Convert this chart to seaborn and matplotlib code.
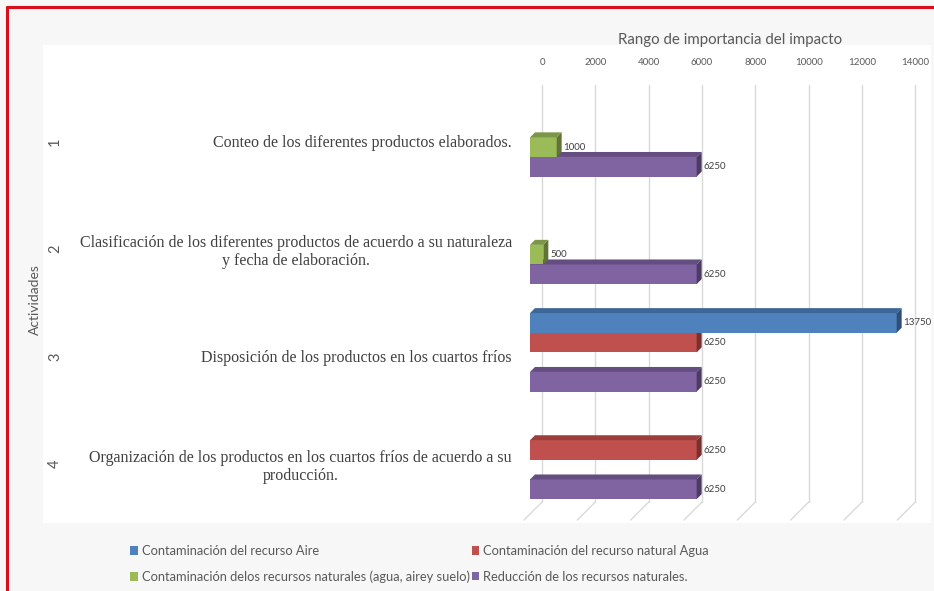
import matplotlib
matplotlib.use('Agg')
import matplotlib.pyplot as plt
import matplotlib.transforms as mtransforms
from matplotlib.patches import Polygon, Rectangle, Patch
from matplotlib.lines import Line2D
import seaborn as sns
import pandas as pd

# Data
activities = ['1', '2', '3', '4']
activity_labels = [
    'Conteo de los diferentes productos elaborados.',
    'Clasificación de los diferentes productos de acuerdo a su naturaleza\ny fecha de elaboración.',
    'Disposición de los productos en los cuartos fríos',
    'Organización de los productos en los cuartos fríos de acuerdo a su\nproducción.',
]
series = [
    'Contaminación del recurso Aire',
    'Contaminación del recurso natural Agua',
    'Contaminación delos recursos naturales (agua, airey suelo)',
    'Reducción de los recursos naturales.',
]
aire = [None, None, 13750, None]
agua = [None, None, 6250, 6250]
suelo = [1000, 500, None, None]
reduccion = [6250, 6250, 6250, 6250]
x_ticks = [0, 2000, 4000, 6000, 8000, 10000, 12000, 14000]

colors = ['#4f81bd', '#c0504d', '#9bbb59', '#8064a2']
top_colors = ['#3e6797', '#9b3f3d', '#7b9646', '#644e81']
side_colors = ['#2f4f75', '#7a302e', '#5f7436', '#4c3b63']

rows = []
for name, vals in zip(series, [aire, agua, suelo, reduccion]):
    for act, v in zip(activities, vals):
        if v is not None:
            rows.append({'act': act, 'serie': name, 'valor': v})
df = pd.DataFrame(rows)

sns.set_style('white')
plt.rcParams['font.family'] = ['Lato', 'DejaVu Sans']

fig = plt.figure(figsize=(9.34, 5.91), dpi=100, facecolor='#f7f7f7')
W, H = 934, 591

# white chart area
fig.add_artist(Rectangle((43 / W, 1 - 523 / H), (931 - 43) / W, (523 - 45) / H,
                         transform=fig.transFigure, facecolor='white',
                         edgecolor='none', zorder=-1))
# red frame (top and left)
fig.add_artist(Line2D([7 / W, 1], [1 - 7 / H, 1 - 7 / H], transform=fig.transFigure,
                      color='#d7101b', lw=2.2))
fig.add_artist(Line2D([7 / W, 7 / W], [0, 1 - 7 / H], transform=fig.transFigure,
                      color='#d7101b', lw=2.2))

ax = fig.add_axes([530 / W, 1 - 505 / H, 400 / W, 430 / H])
ax.set_facecolor('none')

sns.barplot(data=df, y='act', x='valor', hue='serie', order=activities,
            hue_order=series, palette=colors, orient='h', width=0.73,
            ax=ax, legend=False, linewidth=0, saturation=1)

ax.set_xlim(0, 15000)
ax.set_ylim(3.42, -0.58)
for s in ax.spines.values():
    s.set_visible(False)

# 3D look for the bars
dx = 5 * 15000 / 400
dy = 5 / 107.5
for cont, tc, sc in zip(ax.containers, top_colors, side_colors):
    for p in cont.patches:
        x0, y0 = p.get_x(), p.get_y()
        w, h = p.get_width(), p.get_height()
        yt, yb = min(y0, y0 + h), max(y0, y0 + h)
        z = 10 - yt
        p.set_zorder(z)
        ax.add_patch(Polygon([(x0, yt), (x0 + w, yt), (x0 + w + dx, yt - dy), (x0 + dx, yt - dy)],
                             closed=True, facecolor=tc, edgecolor='none', zorder=z))
        ax.add_patch(Polygon([(x0 + w, yt), (x0 + w, yb), (x0 + w + dx, yb - dy), (x0 + w + dx, yt - dy)],
                             closed=True, facecolor=sc, edgecolor='none', zorder=z))
    ax.bar_label(cont, fmt='%d', padding=5, fontsize=7, color='#404040', zorder=20)

# back wall gridlines and floor
back = mtransforms.ScaledTranslation(12 / 100, 0, fig.dpi_scale_trans)
xt = ax.get_xaxis_transform()
for t in x_ticks:
    ax.plot([t, t], [0.977, 0.007], transform=xt + back, color='#d9d9d9', lw=1,
            zorder=0, clip_on=False)
    ax.plot([t, t - 18 * 15000 / 400], [0.007, -0.035], transform=xt + back,
            color='#d9d9d9', lw=1, zorder=0, clip_on=False)

# x axis on top
ax.xaxis.tick_top()
ax.xaxis.set_label_position('top')
ax.set_xticks(x_ticks, labels=[str(t) for t in x_ticks])
ax.tick_params(axis='x', length=0, pad=6, labelsize=7, labelcolor='#595959')
for lab in ax.get_xticklabels():
    lab.set_transform(lab.get_transform() + back)
ax.set_xlabel('Rango de importancia del impacto', fontsize=10.8, color='#595959', labelpad=10)

# y axis: activity descriptions
ax.set_ylabel('')
down = mtransforms.ScaledTranslation(0, -4 / 100, fig.dpi_scale_trans)
ax.set_yticks(range(len(activities)), labels=activity_labels)
ax.tick_params(axis='y', length=0, pad=13)
for lab in ax.get_yticklabels():
    lab.set_family('Liberation Serif')
    lab.set_fontsize(11.5)
    lab.set_color('#404040')
    lab.set_multialignment('center')
    lab.set_transform(lab.get_transform() + down)

numtr = mtransforms.blended_transform_factory(fig.transFigure, ax.transData) + down
for i, a in enumerate(activities):
    ax.text(55 / W, i, a, transform=numtr, rotation=90, ha='center', va='center',
            fontsize=10.5, color='#595959', clip_on=False)

fig.text(35 / W, 1 - 300 / H, 'Actividades', rotation=90, ha='center', va='center',
         fontsize=10, color='#595959')

handles = [Patch(facecolor=c, edgecolor='none') for c in colors]
order = [0, 2, 1, 3]
fig.legend([handles[i] for i in order], [series[i] for i in order], ncol=2,
           loc='upper left', bbox_to_anchor=(130 / W, 1 - 545 / H), frameon=False,
           fontsize=9.3, handlelength=0.6, handleheight=0.6, handletextpad=0.3,
           columnspacing=0.15, labelspacing=1.05, borderaxespad=0, borderpad=0,
           labelcolor='#595959')

fig.savefig('out.png', dpi=100, facecolor=fig.get_facecolor())
